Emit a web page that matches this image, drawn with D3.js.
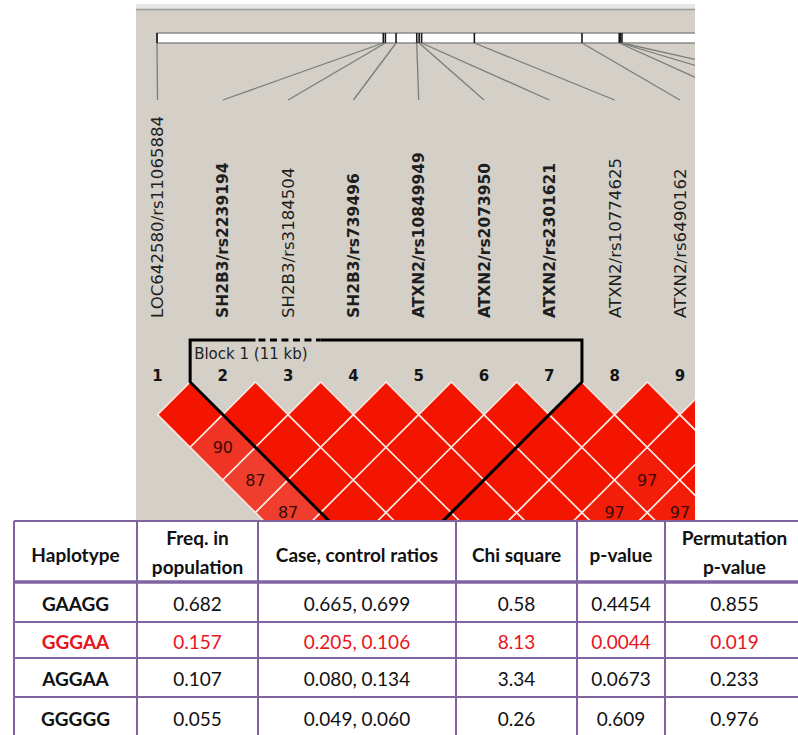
<!DOCTYPE html>
<html>
<head>
<meta charset="utf-8">
<script src="https://cdn.jsdelivr.net/npm/d3@7"></script>
<style>
  html, body { margin: 0; padding: 0; background: #fff; }
  svg { display: block; }
</style>
</head>
<body>
<div id="chart"></div>
<script>
// markers (index 1..12), physical position in kb, bold = in block
const markerNames = [
  "LOC642580/rs11065884", "SH2B3/rs2239194", "SH2B3/rs3184504", "SH2B3/rs739496",
  "ATXN2/rs10849949", "ATXN2/rs2073950", "ATXN2/rs2301621", "ATXN2/rs10774625",
  "ATXN2/rs6490162", "", "", ""
];
const markerBold = [false, true, false, true, true, true, true, false, false, false, false, false];
const markerKb = [0, 65.6, 66.2, 69.3, 75.3, 76.0, 76.7, 92.0, 123.2, 134.0, 134.3, 134.8];

// D' values (x100) that are below 100; every other pair is 100
const ldValues = [
  [1, 3, 90], [1, 4, 87], [1, 5, 87],
  [6, 10, 97], [7, 10, 97], [7, 11, 97]
];
const blockMarkers = [2, 7];
const blockLabel = "Block 1 (11 kb)";
const dashedMarker = 3;

// haplotype table
const tableHeaders = [["Haplotype"], ["Freq. in", "population"], ["Case, control ratios"],
  ["Chi square"], ["p-value"], ["Permutation", "p-value"]];
const haplotypes = ["GAAGG", "GGGAA", "AGGAA", "GGGGG"];
const freqPop = [0.682, 0.157, 0.107, 0.055];
const caseRatio = [0.665, 0.205, 0.080, 0.049];
const controlRatio = [0.699, 0.106, 0.134, 0.060];
const chiSquare = [0.58, 8.13, 3.34, 0.26];
const pValues = ["0.4454", "0.0044", "0.0673", "0.609"];
const permP = [0.855, 0.019, 0.233, 0.976];
const highlighted = "GGGAA";

const width = 798, height = 735;
const svg = d3.select("#chart").append("svg")
  .attr("width", width).attr("height", height);

svg.append("rect").attr("width", width).attr("height", height).attr("fill", "#fff");

// ---- Haploview panel ----
const panel = { x0: 136, x1: 695, y0: 10, y1: 521 };
svg.append("rect").attr("x", panel.x0).attr("y", 4).attr("width", panel.x1 - panel.x0).attr("height", 6)
  .attr("fill", "#e6e6e6");
svg.append("rect").attr("x", panel.x0).attr("y", panel.y0)
  .attr("width", panel.x1 - panel.x0).attr("height", panel.y1 - panel.y0)
  .attr("fill", "#d4d0c8");
svg.append("line").attr("x1", panel.x0).attr("x2", panel.x1).attr("y1", 9.5).attr("y2", 9.5)
  .attr("stroke", "#9a9a9a").attr("stroke-width", 1.6);

svg.append("clipPath").attr("id", "clip")
  .append("rect").attr("x", panel.x0).attr("y", panel.y0)
  .attr("width", panel.x1 - panel.x0).attr("height", panel.y1 - panel.y0);

const g = svg.append("g").attr("clip-path", "url(#clip)");

const markers = markerNames.map((name, i) => ({
  idx: i + 1, name, bold: markerBold[i], kb: markerKb[i]
}));

const x = d3.scaleLinear().domain([1, 9]).range([157.5, 679.9]);
const xPhys = d3.scaleLinear().domain([0, 134.8]).range([157, 622]);
const half = (x(2) - x(1)) / 2;
const yTop = 382;
const visible = markers.filter((d) => x(d.idx) < panel.x1);

// physical map bar
g.append("rect").attr("x", 157).attr("y", 33).attr("width", 600).attr("height", 10)
  .attr("fill", "#fff").attr("stroke", "#8a8a8a").attr("stroke-width", 1.5);
g.selectAll(".tick").data(markers).enter().append("line")
  .attr("x1", (d) => xPhys(d.kb)).attr("x2", (d) => xPhys(d.kb))
  .attr("y1", 33).attr("y2", 43)
  .attr("stroke", "#1a1a1a").attr("stroke-width", 1.6);
g.selectAll(".conn").data(markers).enter().append("line")
  .attr("x1", (d) => xPhys(d.kb)).attr("y1", 43)
  .attr("x2", (d) => x(d.idx)).attr("y2", 100)
  .attr("stroke", "#7c7c7c").attr("stroke-width", 1.3);

// marker names (rotated)
g.selectAll(".name").data(visible).enter().append("text")
  .attr("transform", (d) => `translate(${x(d.idx)},318) rotate(-90)`)
  .attr("dy", "0.36em")
  .attr("font-family", "DejaVu Sans")
  .attr("font-size", (d) => (d.bold ? 15.5 : 16.6))
  .attr("font-weight", (d) => (d.bold ? "bold" : "normal"))
  .attr("fill", "#1e1e1e")
  .text((d) => d.name);

// marker numbers
g.selectAll(".num").data(visible).enter().append("text")
  .attr("x", (d) => x(d.idx)).attr("y", 381)
  .attr("text-anchor", "middle")
  .attr("font-family", "DejaVu Sans").attr("font-weight", "bold").attr("font-size", 15)
  .attr("fill", "#151515")
  .text((d) => d.idx);

// LD cells
const ldLookup = new Map(ldValues.map((d) => [`${d[0]}-${d[1]}`, d[2]]));
const cells = [];
for (let i = 1; i <= markers.length; i++) {
  for (let j = i + 1; j <= markers.length; j++) {
    cells.push({ i, j, v: ldLookup.has(`${i}-${j}`) ? ldLookup.get(`${i}-${j}`) : 100 });
  }
}
const color = d3.scaleLinear().domain([85, 100]).range(["#ee4434", "#f41500"]);

const cellG = g.selectAll(".cell").data(cells).enter().append("g")
  .attr("transform", (d) => `translate(${(x(d.i) + x(d.j)) / 2},${yTop + (d.j - d.i) * half})`);
cellG.append("path")
  .attr("d", `M0,${-half}L${half},0L0,${half}L${-half},0Z`)
  .attr("fill", (d) => color(d.v))
  .attr("stroke", "#fbe6df").attr("stroke-width", 1.6);
cellG.filter((d) => d.v < 100).append("text")
  .attr("text-anchor", "middle").attr("dy", "0.36em")
  .attr("font-family", "DejaVu Sans").attr("font-size", 16)
  .attr("fill", "#3a0a05")
  .text((d) => d.v);

// block outline
const bx0 = (x(blockMarkers[0] - 1) + x(blockMarkers[0])) / 2;
const bx1 = (x(blockMarkers[1]) + x(blockMarkers[1] + 1)) / 2;
const byTop = 340;
const dx0 = x(dashedMarker) - half, dx1 = x(dashedMarker) + half;
const blk = g.append("g").attr("fill", "none").attr("stroke", "#000").attr("stroke-width", 3);
blk.append("path").attr("d",
  `M${dx0},${byTop}L${bx0},${byTop}L${bx0},${yTop}L${(bx0 + bx1) / 2},${yTop + (bx1 - bx0) / 2}` +
  `L${bx1},${yTop}L${bx1},${byTop}L${dx1},${byTop}`);
blk.append("line").attr("x1", dx0 + 3).attr("x2", dx1).attr("y1", byTop).attr("y2", byTop)
  .attr("stroke-dasharray", "7,4.5");
g.append("text").attr("x", bx0 + 4).attr("y", 359)
  .attr("font-family", "DejaVu Sans").attr("font-size", 15).attr("fill", "#1e1e1e")
  .text(blockLabel);

// ---- haplotype table ----
const colX = [14, 137, 258, 456, 577, 665, 806];
const rowY = [521, 582, 622, 658, 697, 737];
const purple = "#8064a2";
const t = svg.append("g");
t.append("rect").attr("x", colX[0]).attr("y", rowY[0])
  .attr("width", colX[6] - colX[0]).attr("height", rowY[5] - rowY[0]).attr("fill", "#fff");

const rows = haplotypes.map((h, i) => [
  h, d3.format(".3f")(freqPop[i]),
  `${d3.format(".3f")(caseRatio[i])}, ${d3.format(".3f")(controlRatio[i])}`,
  d3.format(".2f")(chiSquare[i]), pValues[i], d3.format(".3f")(permP[i])
]);
const colCenter = (c) => (colX[c] + colX[c + 1]) / 2 + (c === 5 ? -1 : 0);

tableHeaders.forEach((lines, c) => {
  lines.forEach((line, k) => {
    t.append("text")
      .attr("x", colCenter(c))
      .attr("y", lines.length === 1 ? 555 : 538 + k * 29)
      .attr("dy", "0.35em").attr("text-anchor", "middle")
      .attr("font-family", "Lato").attr("font-weight", "bold").attr("font-size", 19)
      .attr("fill", "#111").text(line);
  });
});

rows.forEach((row, r) => {
  const yc = (rowY[r + 1] + rowY[r + 2]) / 2 + 2;
  const fill = haplotypes[r] === highlighted ? "#e8141c" : "#111";
  row.forEach((val, c) => {
    t.append("text").attr("x", colCenter(c)).attr("y", yc)
      .attr("dy", "0.35em").attr("text-anchor", "middle")
      .attr("font-family", "Lato").attr("font-size", 19)
      .attr("font-weight", c === 0 ? "bold" : "normal")
      .attr("fill", fill).text(val);
  });
});

t.selectAll(".vl").data(colX).enter().append("line")
  .attr("x1", (d) => d).attr("x2", (d) => d)
  .attr("y1", rowY[0]).attr("y2", rowY[5])
  .attr("stroke", purple).attr("stroke-width", 2);
t.selectAll(".hl").data(rowY).enter().append("line")
  .attr("x1", colX[0]).attr("x2", colX[6])
  .attr("y1", (d) => d).attr("y2", (d) => d)
  .attr("stroke", purple).attr("stroke-width", (d, i) => (i === 1 ? 3.5 : 2));
</script>
</body>
</html>
